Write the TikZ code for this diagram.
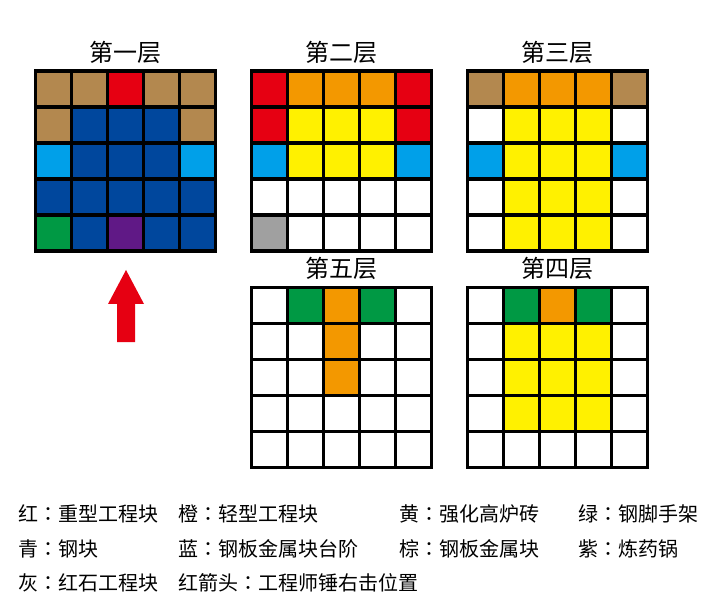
\documentclass[tikz,border=0pt]{standalone}
\usepackage{fontspec}
\setmainfont{Noto Sans CJK SC}
\newfontfamily\tcfont{Noto Sans CJK TC}
\newcommand{\fwcolon}{{\tcfont ：}}
\definecolor{cR}{HTML}{E60012}
\definecolor{cO}{HTML}{F39800}
\definecolor{cY}{HTML}{FFF100}
\definecolor{cG}{HTML}{009944}
\definecolor{cC}{HTML}{00A0E9}
\definecolor{cD}{HTML}{00479D}
\definecolor{cB}{HTML}{B3884F}
\definecolor{cP}{HTML}{601986}
\definecolor{cA}{HTML}{A0A0A0}
\definecolor{cW}{HTML}{FFFFFF}
\newcommand{\layergrid}[3]{%
  \foreach \cc [count=\k from 0] in {#3}{%
    \pgfmathtruncatemacro{\cx}{mod(\k,5)}%
    \pgfmathtruncatemacro{\cy}{div(\k,5)}%
    \fill[\cc] ({#1+36*\cx},{#2+36*\cy}) rectangle ++(36,36);
  }%
  \foreach \j in {0,...,5}{%
    \draw[gridline] ({#1+36*\j},#2) -- ++(0,180);
    \draw[gridline] (#1,{#2+36*\j}) -- ++(180,0);
  }%
}
\begin{document}
\begin{tikzpicture}[x=1pt,y=-1pt,
  gridline/.style={line width=3.4pt,line cap=rect,black},
  title/.style={font=\fontsize{24}{28}\selectfont,inner sep=0pt},
  legend/.style={font=\fontsize{20}{24}\selectfont,inner sep=0pt,anchor=west}]
\useasboundingbox (0,0) rectangle (720,612);
\fill[white] (0,0) rectangle (720,612);
% Layer 1
\layergrid{35.5}{71}{cB,cB,cR,cB,cB, cB,cD,cD,cD,cB, cC,cD,cD,cD,cC, cD,cD,cD,cD,cD, cG,cD,cP,cD,cD}
% Layer 2
\layergrid{251.5}{71}{cR,cO,cO,cO,cR, cR,cY,cY,cY,cR, cC,cY,cY,cY,cC, cW,cW,cW,cW,cW, cA,cW,cW,cW,cW}
% Layer 3
\layergrid{467.5}{71}{cB,cO,cO,cO,cB, cW,cY,cY,cY,cW, cC,cY,cY,cY,cC, cW,cY,cY,cY,cW, cW,cY,cY,cY,cW}
% Layer 5
\layergrid{251.5}{287.5}{cW,cG,cO,cG,cW, cW,cW,cO,cW,cW, cW,cW,cO,cW,cW, cW,cW,cW,cW,cW, cW,cW,cW,cW,cW}
% Layer 4
\layergrid{467.5}{287.5}{cW,cG,cO,cG,cW, cW,cY,cY,cY,cW, cW,cY,cY,cY,cW, cW,cY,cY,cY,cW, cW,cW,cW,cW,cW}
% titles
\node[title] (t1) at (125.5,52) {第一层};
\node[title] (t2) at (341.5,52) {第二层};
\node[title] (t3) at (557.5,52) {第三层};
\node[title] (t5) at (341.5,268) {第五层};
\node[title] (t4) at (557.5,268) {第四层};
% arrow
\fill[cR] (126,270) -- (144,304) -- (135,304) -- (135,342) -- (117,342) -- (117,304) -- (108,304) -- cycle;
% legend
\node[legend] (l1) at (18,514) {红\fwcolon 重型工程块};
\node[legend] (l2) at (178,514) {橙\fwcolon 轻型工程块};
\node[legend] (l3) at (399,514) {黄\fwcolon 强化高炉砖};
\node[legend] (l4) at (578,514) {绿\fwcolon 钢脚手架};
\node[legend] (l5) at (18,549) {青\fwcolon 钢块};
\node[legend] (l6) at (178,549) {蓝\fwcolon 钢板金属块台阶};
\node[legend] (l7) at (399,549) {棕\fwcolon 钢板金属块};
\node[legend] (l8) at (578,549) {紫\fwcolon 炼药锅};
\node[legend] (l9) at (18,583) {灰\fwcolon 红石工程块};
\node[legend] (l10) at (178,583) {红箭头\fwcolon 工程师锤右击位置};
\end{tikzpicture}
\end{document}
